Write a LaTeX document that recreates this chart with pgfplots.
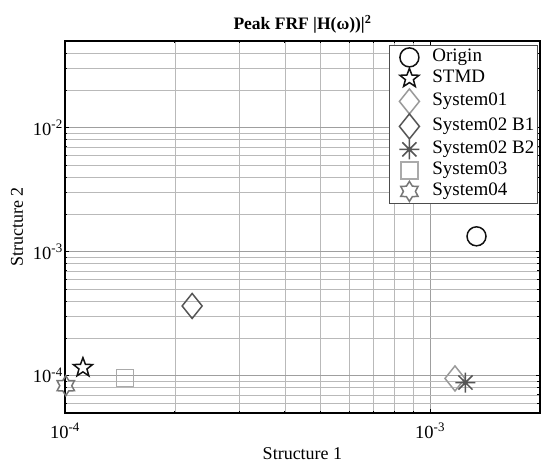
\documentclass[border=0pt]{standalone}
\usepackage{fontspec}
\setmainfont{Liberation Serif}
\usepackage{pgfplots}
\pgfplotsset{compat=1.18}
\usetikzlibrary{plotmarks}

\pgfdeclareplotmark{pstar}{%
  \pgfpathmoveto{\pgfpointpolar{90}{\pgfplotmarksize}}%
  \pgfpathlineto{\pgfpointpolar{126}{0.42\pgfplotmarksize}}%
  \pgfpathlineto{\pgfpointpolar{162}{\pgfplotmarksize}}%
  \pgfpathlineto{\pgfpointpolar{198}{0.42\pgfplotmarksize}}%
  \pgfpathlineto{\pgfpointpolar{234}{\pgfplotmarksize}}%
  \pgfpathlineto{\pgfpointpolar{270}{0.42\pgfplotmarksize}}%
  \pgfpathlineto{\pgfpointpolar{306}{\pgfplotmarksize}}%
  \pgfpathlineto{\pgfpointpolar{342}{0.42\pgfplotmarksize}}%
  \pgfpathlineto{\pgfpointpolar{18}{\pgfplotmarksize}}%
  \pgfpathlineto{\pgfpointpolar{54}{0.42\pgfplotmarksize}}%
  \pgfpathclose\pgfusepathqstroke}

\pgfdeclareplotmark{hstar}{%
  \pgfpathmoveto{\pgfpointpolar{90}{\pgfplotmarksize}}%
  \pgfpathlineto{\pgfpointpolar{120}{0.6\pgfplotmarksize}}%
  \pgfpathlineto{\pgfpointpolar{150}{\pgfplotmarksize}}%
  \pgfpathlineto{\pgfpointpolar{180}{0.6\pgfplotmarksize}}%
  \pgfpathlineto{\pgfpointpolar{210}{\pgfplotmarksize}}%
  \pgfpathlineto{\pgfpointpolar{240}{0.6\pgfplotmarksize}}%
  \pgfpathlineto{\pgfpointpolar{270}{\pgfplotmarksize}}%
  \pgfpathlineto{\pgfpointpolar{300}{0.6\pgfplotmarksize}}%
  \pgfpathlineto{\pgfpointpolar{330}{\pgfplotmarksize}}%
  \pgfpathlineto{\pgfpointpolar{0}{0.6\pgfplotmarksize}}%
  \pgfpathlineto{\pgfpointpolar{30}{\pgfplotmarksize}}%
  \pgfpathlineto{\pgfpointpolar{60}{0.6\pgfplotmarksize}}%
  \pgfpathclose\pgfusepathqstroke}

\pgfdeclareplotmark{mdiamond}{%
  \pgfpathmoveto{\pgfpoint{0pt}{1.25\pgfplotmarksize}}%
  \pgfpathlineto{\pgfpoint{\pgfplotmarksize}{0pt}}%
  \pgfpathlineto{\pgfpoint{0pt}{-1.25\pgfplotmarksize}}%
  \pgfpathlineto{\pgfpoint{-\pgfplotmarksize}{0pt}}%
  \pgfpathclose\pgfusepathqstroke}

\pgfdeclareplotmark{mast}{%
  \pgfpathmoveto{\pgfpointpolar{0}{\pgfplotmarksize}}%
  \pgfpathlineto{\pgfpointpolar{180}{\pgfplotmarksize}}%
  \pgfpathmoveto{\pgfpointpolar{45}{\pgfplotmarksize}}%
  \pgfpathlineto{\pgfpointpolar{225}{\pgfplotmarksize}}%
  \pgfpathmoveto{\pgfpointpolar{90}{\pgfplotmarksize}}%
  \pgfpathlineto{\pgfpointpolar{270}{\pgfplotmarksize}}%
  \pgfpathmoveto{\pgfpointpolar{135}{\pgfplotmarksize}}%
  \pgfpathlineto{\pgfpointpolar{315}{\pgfplotmarksize}}%
  \pgfusepathqstroke}

\definecolor{cblack}{HTML}{111111}
\definecolor{clight}{HTML}{999999}
\definecolor{clight2}{HTML}{AAAAAA}
\definecolor{cdark}{HTML}{555555}
\definecolor{cmid}{HTML}{777777}

\begin{document}
\begin{tikzpicture}
\path[use as bounding box] (-65pt,-50pt) rectangle (476pt,413pt);
\begin{axis}[
  at={(0pt,0pt)}, anchor=south west,
  scale only axis, width=475pt, height=372pt,
  xmode=log, ymode=log,
  xmin=1e-4, xmax=2e-3, ymin=5e-5, ymax=5e-2,
  xtick={1e-4,1e-3}, xticklabels={10\textsuperscript{-4},10\textsuperscript{-3}},
  ytick={1e-4,1e-3,1e-2}, yticklabels={10\textsuperscript{-4},10\textsuperscript{-3},10\textsuperscript{-2}},
  minor xtick={2e-4,3e-4,4e-4,5e-4,6e-4,7e-4,8e-4,9e-4,2e-3},
  minor ytick={6e-5,7e-5,8e-5,9e-5,2e-4,3e-4,4e-4,5e-4,6e-4,7e-4,8e-4,9e-4,2e-3,3e-3,4e-3,5e-3,6e-3,7e-3,8e-3,9e-3,2e-2,3e-2,4e-2},
  grid=both,
  major grid style={gray!75, line width=0.6pt},
  minor grid style={gray!55, line width=0.6pt},
  tick align=inside,
  major tick length=4pt, minor tick length=2.5pt,
  tick style={black, line width=0.8pt},
  axis line style={black, line width=1.2pt},
  clip=false,
  font=\fontsize{18}{21}\selectfont,
  ticklabel style={font=\fontsize{18.5}{21}\selectfont},
  xticklabel style={anchor=base, yshift=-25pt},
  yticklabel style={anchor=east, inner sep=1pt, xshift=-1pt},
  title={\textbf{Peak FRF |H(ω))|\textsuperscript{2}}},
  title style={at={(axis description cs:0.5,1)}, anchor=base, yshift=5pt, font=\fontsize{17.5}{20}\selectfont},
  xlabel={Structure 1},
  xlabel style={at={(axis description cs:0.5,0)}, anchor=base, yshift=-46pt},
  ylabel={Structure 2},
  ylabel style={at={(axis description cs:-0.0884,0.5)}, anchor=base},
  legend style={at={(axis description cs:0.996,0.989)}, anchor=north east,
    draw=black!70, line width=0.6pt, fill=white,
    font=\fontsize{19}{21}\selectfont, inner sep=1.5pt,
    nodes={text height=12.5pt, text depth=4.5pt, inner sep=2pt}},
  legend cell align=left,
  legend image code/.code={\path[#1] (0pt,0pt) -- (40pt,0pt); \path[#1] plot coordinates {(19pt,0pt)};},
]
\addplot[draw=none, mark=o, mark size=9.5pt, mark options={draw=cblack, line width=1.5pt}] coordinates {(1.34e-3,1.33e-3)};
\addlegendentry{Origin}
\addplot[draw=none, mark=pstar, mark size=10pt, mark options={draw=cblack, line width=1.5pt}] coordinates {(1.12e-4,1.16e-4)};
\addlegendentry{STMD}
\addplot[draw=none, mark=mdiamond, mark size=10pt, mark options={draw=clight, line width=1.5pt}] coordinates {(1.17e-3,9.5e-5)};
\addlegendentry{System01}
\addplot[draw=none, mark=mdiamond, mark size=10pt, mark options={draw=cdark, line width=1.5pt}] coordinates {(2.23e-4,3.65e-4)};
\addlegendentry{System02 B1}
\addplot[draw=none, mark=mast, mark size=10pt, mark options={draw=cdark, line width=1.5pt}] coordinates {(1.25e-3,8.8e-5)};
\addlegendentry{System02 B2}
\addplot[draw=none, mark=square, mark size=8.5pt, mark options={draw=clight2, line width=1.5pt}] coordinates {(1.46e-4,9.6e-5)};
\addlegendentry{System03}
\addplot[draw=none, mark=hstar, mark size=10pt, mark options={draw=cmid, line width=1.5pt}] coordinates {(1.005e-4,8.3e-5)};
\addlegendentry{System04}
\end{axis}
\end{tikzpicture}
\end{document}
